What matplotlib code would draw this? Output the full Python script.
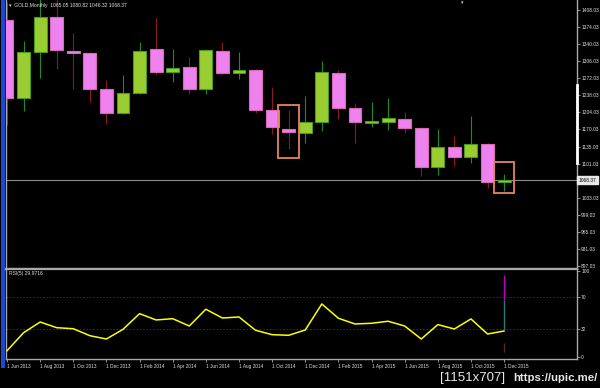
import matplotlib
matplotlib.use("Agg")
import matplotlib.pyplot as plt
from matplotlib.patches import Rectangle

# monthly gold candles, Jun 2013 .. Dec 2015
opens = [1388, 1232, 1324, 1394, 1326, 1322, 1250, 1202, 1242, 1330, 1284, 1294, 1250, 1326, 1282, 1288,
         1208, 1170, 1162, 1184, 1282, 1212, 1182, 1184, 1190, 1172, 1094, 1134, 1114, 1140, 1065.05]
highs = [1424, 1346, 1432, 1430, 1362, 1324, 1268, 1278, 1344, 1392, 1330, 1314, 1330, 1344, 1324, 1290,
         1254, 1208, 1236, 1306, 1288, 1222, 1224, 1232, 1204, 1174, 1170, 1156, 1196, 1142, 1080.82]
lows = [1178, 1206, 1272, 1290, 1250, 1224, 1180, 1200, 1240, 1280, 1264, 1240, 1240, 1280, 1270, 1202,
        1160, 1130, 1142, 1166, 1190, 1142, 1174, 1168, 1162, 1076, 1078, 1096, 1102, 1052, 1046.32]
closes = [1232, 1324, 1394, 1328, 1322, 1250, 1202, 1242, 1326, 1284, 1292, 1250, 1328, 1282, 1288, 1208,
          1174, 1164, 1184, 1284, 1212, 1184, 1186, 1192, 1172, 1094, 1134, 1114, 1140, 1064, 1068.37]

rsi = [6.8, 28.0, 40.6, 33.9, 32.7, 24.5, 20.6, 32.0, 50.4, 43.0, 44.5, 35.9, 55.6, 45.3, 46.5, 30.9,
       25.7, 25.0, 31.2, 61.8, 45.0, 38.3, 39.1, 41.5, 35.9, 20.6, 37.5, 32.4, 44.2, 26.5, 29.97]
rsi_levels = [70, 32]

date_labels = ["1 Jun 2013", "1 Aug 2013", "1 Oct 2013", "1 Dec 2013", "1 Feb 2014", "1 Apr 2014",
               "1 Jun 2014", "1 Aug 2014", "1 Oct 2014", "1 Dec 2014", "1 Feb 2015", "1 Apr 2015",
               "1 Jun 2015", "1 Aug 2015", "1 Oct 2015", "1 Dec 2015"]
price_ticks = [1408.03, 1374.03, 1340.03, 1306.03, 1272.03, 1238.03, 1204.03, 1170.03, 1135.03,
               1101.03, 1033.03, 999.03, 965.03, 931.03, 897.03]
last_price = 1068.37
# highlighted candles: (index, low, high)
boxes = [(17, 1112, 1218), (30, 1043, 1105)]

W, H = 600, 388
BG = "black"
AX_COL = "#a8a8a8"
TXT = "#e0e0e0"
FONT = "Liberation Sans"

fig = plt.figure(figsize=(6, 3.88), dpi=100, facecolor=BG)

def px_rect(x0, y0, x1, y1):
    return [x0 / W, 1 - y1 / H, (x1 - x0) / W, (y1 - y0) / H]

ax = fig.add_axes(px_rect(6, 0, 577, 269), facecolor=BG)
ax_rsi = fig.add_axes(px_rect(6, 269, 577, 359), facecolor=BG, sharex=ax)

n = len(opens)
xs = list(range(n))
body_w = 0.78

for i in xs:
    o, h, l, c = opens[i], highs[i], lows[i], closes[i]
    up = c >= o
    wick_col = "#1e8c1e" if up else "#8b1a1a"
    face = "#9acd32" if up else "#ee82ee"
    edge = "#4a9a20" if up else "#d86ab8"
    ax.vlines(i, l, h, color=wick_col, linewidth=0.8, zorder=2)
    lo_b = min(o, c)
    ax.add_patch(Rectangle((i - body_w / 2, lo_b), body_w, max(abs(c - o), 1.0),
                           facecolor=face, edgecolor=edge, linewidth=0.8, zorder=3))

for i, lo, hi in boxes:
    ax.add_patch(Rectangle((i - 0.62, lo), 1.24, hi - lo, facecolor="none",
                           edgecolor="#e8845a", linewidth=1.3, zorder=4))

ax.axhline(last_price, color="#8c8c8c", linewidth=0.8, zorder=1)
ax.text(1.003, last_price, f"{last_price:.2f}", transform=ax.get_yaxis_transform(),
        ha="left", va="center", fontsize=3.5, family=FONT, color="black", clip_on=False,
        bbox=dict(boxstyle="square,pad=0.25", facecolor="#e8e8e8", edgecolor="#e8e8e8"))
# visible-range marker on the price scale
ax.plot([1.0, 1.0], [1102, 1258], transform=ax.get_yaxis_transform(), color="white",
        linewidth=2, clip_on=False, zorder=5)

ax.set_xlim(-0.06, 34.4)
ax.set_ylim(891.1, 1428)
ax.yaxis.tick_right()
ax.set_yticks(price_ticks)
ax.set_yticklabels([f"{v:.2f}" for v in price_ticks])
ax.tick_params(axis="y", direction="out", length=2, width=0.6, color=AX_COL, labelcolor=TXT,
               labelsize=3.5, pad=1)
ax.tick_params(axis="x", bottom=False, labelbottom=False)
for lab in ax.get_yticklabels():
    lab.set_family(FONT)
ax.spines["top"].set_visible(False)
for s in ("left", "right"):
    ax.spines[s].set_color(AX_COL)
    ax.spines[s].set_linewidth(1.0)
ax.spines["bottom"].set_color(AX_COL)
ax.spines["bottom"].set_linewidth(1.6)

# RSI panel
ax_rsi.plot(xs, rsi, color="#ffff00", linewidth=1.1, zorder=3)
for lvl in rsi_levels:
    ax_rsi.axhline(lvl, color="#3b2d6e", linewidth=0.6, linestyle=(0, (2, 2)), zorder=1)
ax_rsi.vlines(30, 66.5, 96, color="#c000c0", linewidth=1.0, zorder=4)
ax_rsi.vlines(30, 31, 66.5, color="#2a7a7a", linewidth=1.0, zorder=4)
ax_rsi.vlines(30, 5, 16, color="#5a2a1a", linewidth=1.0, zorder=4)
ax_rsi.set_ylim(-2.9, 102.9)
ax_rsi.yaxis.tick_right()
ax_rsi.set_yticks([100, 70, 32, 0])
ax_rsi.set_yticklabels(["100", "70", "32", "0"])
ax_rsi.tick_params(axis="y", direction="out", length=2, width=0.6, color=AX_COL, labelcolor=TXT,
                   labelsize=3.5, pad=1)
ax_rsi.set_xticks(xs[::2])
ax_rsi.set_xticklabels(date_labels)
ax_rsi.tick_params(axis="x", direction="out", length=2, width=0.6, color=AX_COL, labelcolor=TXT,
                   labelsize=3.4, pad=1.5)
for lab in ax_rsi.get_xticklabels():
    lab.set_ha("left")
    lab.set_family(FONT)
for lab in ax_rsi.get_yticklabels():
    lab.set_family(FONT)
for s in ("left", "right", "bottom"):
    ax_rsi.spines[s].set_color(AX_COL)
    ax_rsi.spines[s].set_linewidth(1.0)
ax_rsi.spines["top"].set_color(AX_COL)
ax_rsi.spines["top"].set_linewidth(1.6)
ax_rsi.set_xlim(-0.06, 34.4)

# labels inside the panels
fig.text(9 / W, 1 - 5 / H, "\u25be  GOLD,Monthly  1065.05 1080.82 1046.32 1068.37", fontsize=3.6,
         family=["Liberation Sans", "DejaVu Sans"], color=TXT, va="center", ha="left")
fig.text(9 / W, 1 - 274 / H, "RSI(5) 29.9716", fontsize=3.6, family=FONT, color=TXT,
         va="center", ha="left")
fig.text(462 / W, 1 - 3 / H, "\u25be", fontsize=3.5, color=TXT, va="center", ha="center")

# left blue bar of the terminal window
fig.patches.append(Rectangle((1 / W, 1 - 368 / H), 4 / W, 368 / H, transform=fig.transFigure,
                             facecolor="#1e46d2", edgecolor="none"))

# watermark
fig.text(440 / W, 1 - 378 / H, "[1151x707]", fontsize=9.5, family=FONT, color="#e8e8e8",
         va="center", ha="left")
fig.text(597 / W, 1 - 378 / H, "https://upic.me/", fontsize=8.2, family=FONT, weight="bold",
         color="#e8e8e8", va="center", ha="right")

fig.savefig("out.png", dpi=100, facecolor=BG)
